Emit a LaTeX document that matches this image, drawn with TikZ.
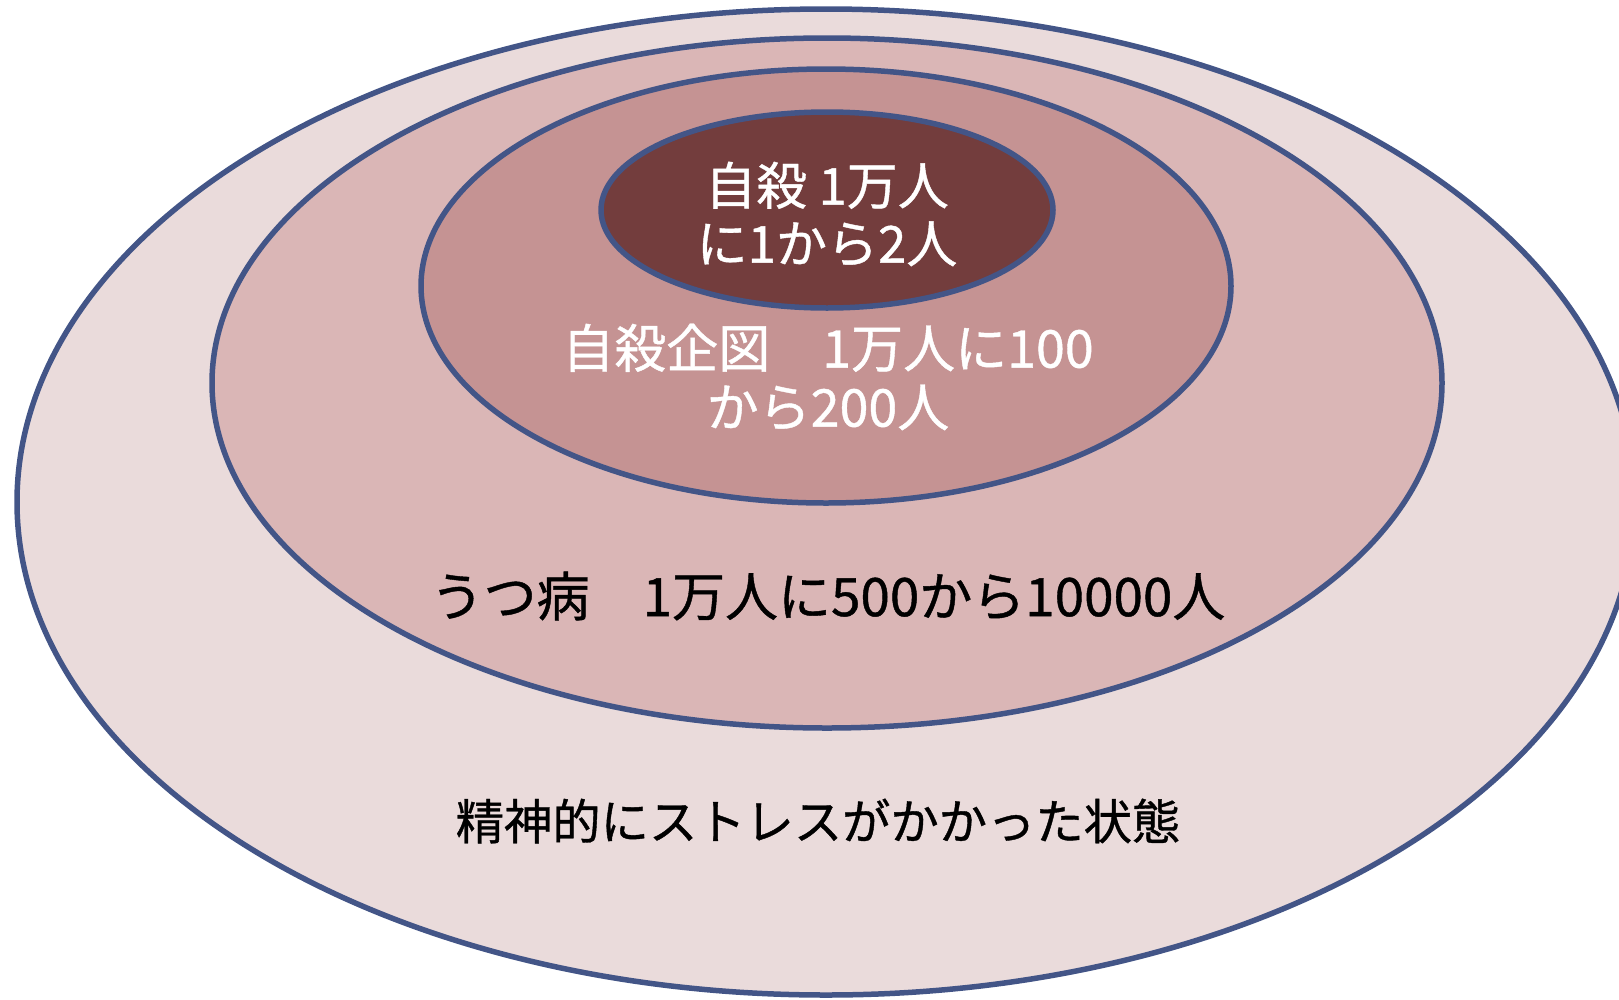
\documentclass[tikz,border=0pt]{standalone}
\usepackage{fontspec}
\newfontfamily\jp[FakeBold=0.8]{Noto Sans CJK JP}
\definecolor{ringline}{HTML}{435587}
\definecolor{cA}{HTML}{EADBDB}
\definecolor{cB}{HTML}{DAB6B6}
\definecolor{cC}{HTML}{C59393}
\definecolor{cD}{HTML}{733D3D}
\tikzset{
  ring/.style={draw=ringline, line width=5.5pt},
  lbl/.style={align=center, inner sep=0pt},
}
\begin{document}
\begin{tikzpicture}[x=1pt,y=-1pt]
\useasboundingbox (0,0) rectangle (1619,999);
\clip (0,0) rectangle (1619,999);
\filldraw[ring, fill=cA] (826,502) ellipse [x radius=809, y radius=493];
\filldraw[ring, fill=cB] (827,383) ellipse [x radius=615, y radius=345];
\filldraw[ring, fill=cC] (826,286) ellipse [x radius=405, y radius=217];
\filldraw[ring, fill=cD] (827,210) ellipse [x radius=226, y radius=98];
\node[lbl, text=white, font=\jp\fontsize{51}{58}\selectfont] (t1) at (827,214) {自殺 1万人\\に1から2人};
\node[lbl, text=white, font=\jp\fontsize{52}{59}\selectfont] (t2) at (828,377) {自殺企図　1万人に100\\から200人};
\node[lbl, text=black, font=\jp\fontsize{53}{60}\selectfont] (t3) at (828,596) {うつ病　1万人に500から10000人};
\node[lbl, text=black, font=\jp\fontsize{48.3}{58}\selectfont] (t4) at (818,821) {精神的にストレスがかかった状態};
\end{tikzpicture}
\end{document}
